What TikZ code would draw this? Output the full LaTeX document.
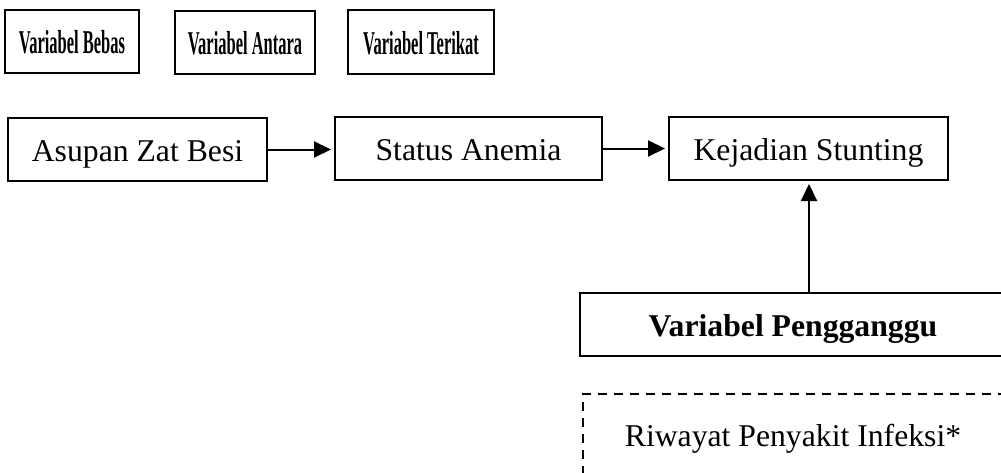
\documentclass[tikz,border=0pt]{standalone}
\usepackage{fontspec}
\setmainfont{Liberation Serif}
\usetikzlibrary{arrows.meta}
\tikzset{
  box/.style={draw, line width=2pt, inner sep=0pt, text height=24pt, text depth=0pt, font=\fontsize{31.7}{38}\selectfont},
  headbox/.style={box, line width=2.4pt},
  dashbox/.style={box, dash pattern=on 9pt off 7pt},
  arr/.style={line width=2pt, -{Triangle[length=17pt,width=16pt]}, shorten >=3pt}
}
\newcommand{\squeeze}[1]{\scalebox{0.52}[1.05]{\bfseries #1}}
\begin{document}
\begin{tikzpicture}[x=1pt,y=-1pt]
\useasboundingbox (0,0) rectangle (1001,472);
\clip (0,0) rectangle (1001,472);
\node[headbox, minimum width=134pt, minimum height=63pt] (bebas) at (72,41.5) {\squeeze{Variabel Bebas}};
\node[headbox, minimum width=140pt, minimum height=63pt] (antara) at (245,42.5) {\squeeze{Variabel Antara}};
\node[headbox, minimum width=146pt, minimum height=64pt] (terikat) at (421,42) {\squeeze{Variabel Terikat}};
\node[box, minimum width=259pt, minimum height=63pt] (asupan) at (137.5,149.5) {Asupan Zat Besi};
\node[box, minimum width=267pt, minimum height=63pt] (status) at (468.5,148.5) {Status Anemia};
\node[box, minimum width=279pt, minimum height=63pt] (kejadian) at (808.5,148.5) {Kejadian Stunting};
\node[box, minimum width=426pt, minimum height=63pt] (pengganggu) at (793,324.5) {\bfseries Variabel Pengganggu};
\node[dashbox, minimum width=420pt, minimum height=80pt] (riwayat) at (793,434) {Riwayat Penyakit Infeksi*};
\draw[arr] (asupan.east) -- (status.west |- asupan.east);
\draw[arr] (status.east) -- (kejadian.west |- status.east);
\draw[arr] (pengganggu.north -| 809,0) -- (kejadian.south -| 809,0);
\end{tikzpicture}
\end{document}
